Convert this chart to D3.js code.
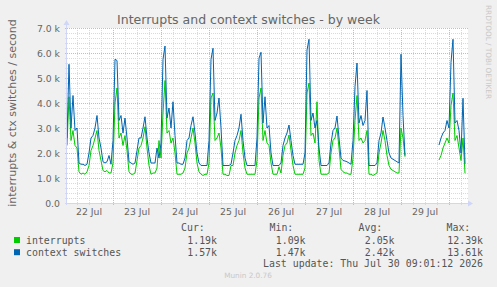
<!DOCTYPE html>
<html>
<head>
<meta charset="utf-8">
<script src="https://cdn.jsdelivr.net/npm/d3@7"></script>
<style>
  body { margin: 0; background: #f0f0f0; }
  svg text { font-family: "DejaVu Sans", sans-serif; fill: #666; }
  svg text.mono { font-family: "DejaVu Sans Mono", monospace; font-size: 9.9px; fill: #555; }
</style>
</head>
<body>
<svg id="chart"></svg>
<script>
var svgWidth = 497;
var svgHeight = 287;

// hourly samples from 22 Jul 01:00, values in thousands per second
var startTime = Date.UTC(2026, 6, 22, 1);
var endTime = Date.UTC(2026, 6, 30, 9);

var interrupts = [
  /* 22 Jul */ 2.3, 4.25, 2.5, 2.9, 2.3, 2.2, 1.25, 1.15, 1.2, 1.15, 1.25, 1.5, 2.1, 2.3, 2.6, 2.9, 2.1, 1.7, 1.3, 1.25, 1.3, 1.2, 1.2,
  /* 23 Jul */ 1.6, 4.0, 4.6, 2.6, 2.8, 2.3, 2.7, 2.1, 1.25, 1.15, 1.15, 1.2, 1.7, 2.2, 2.3, 2.6, 3.05, 2.2, 1.5, 1.15, 1.2, 1.2, 1.4, 2.5,
  /* 24 Jul */ 1.8, 3.6, 4.9, 2.8, 2.9, 2.4, 2.6, 2.0, 1.15, 1.15, 1.15, 1.2, 1.4, 2.0, 2.2, 2.6, 3.0, 2.4, 1.6, 1.25, 1.15, 1.1, 1.15, 1.15,
  /* 25 Jul */ 1.6, 4.2, 4.4, 2.5, 2.6, 2.8, 2.2, 1.15, 1.15, 1.1, 1.1, 1.5, 1.5, 2.0, 2.3, 2.5, 2.9, 2.0, 1.4, 1.15, 1.15, 1.15, 1.15, 1.15,
  /* 26 Jul */ 1.7, 4.2, 4.6, 2.5, 2.9, 2.4, 2.3, 1.6, 1.15, 1.15, 1.15, 1.45, 1.2, 1.9, 2.3, 2.4, 2.72, 2.1, 1.5, 1.15, 1.15, 1.15, 1.15, 1.15,
  /* 27 Jul */ 1.4, 4.4, 4.8, 2.7, 2.8, 2.4, 4.05, 1.7, 1.15, 1.15, 1.15, 1.15, 1.2, 2.0, 2.5, 2.6, 3.0, 2.2, 1.35, 1.25, 1.2, 1.2, 1.15, 1.15,
  /* 28 Jul */ 1.8, 3.3, 4.3, 2.5, 2.6, 2.4, 2.5, 2.9, 1.15, 1.15, 1.1, 1.15, 1.2, 2.0, 2.4, 2.9, 2.5, 1.9, 1.5, 1.35, 1.3, 1.25, 1.2, 1.2,
  /* 29 Jul */ 3.0, 2.6, 1.85, null, null, null, null, null, null, null, null, null, null, null, null, null, null, null, null, 1.72, 1.9, 2.2, 2.4, 2.6,
  /* 30 Jul */ 2.4, 3.9, 4.4, 2.5, 2.7, 2.2, 1.7, 2.6, 1.19, null
];

var ctxSwitches = [
  /* 22 Jul */ 2.6, 5.55, 3.0, 4.3, 2.9, 3.0, 1.6, 1.55, 1.55, 1.5, 1.55, 2.0, 2.6, 2.7, 3.0, 3.5, 2.6, 2.2, 1.65, 1.6, 1.65, 1.9, 1.55,
  /* 23 Jul */ 2.5, 5.75, 5.7, 3.3, 3.5, 2.8, 3.4, 2.6, 1.65, 1.6, 1.55, 1.6, 2.1, 2.6, 2.6, 3.0, 3.45, 2.6, 2.0, 1.6, 1.6, 1.6, 2.2, 1.8,
  /* 24 Jul */ 2.4, 5.75, 6.28, 3.4, 3.8, 3.0, 4.05, 2.7, 1.6, 1.6, 1.55, 1.55, 1.8, 2.5, 2.6, 3.1, 3.45, 2.8, 2.0, 1.6, 1.5, 1.5, 1.5, 1.5,
  /* 25 Jul */ 2.5, 5.75, 6.19, 3.3, 3.6, 4.2, 3.0, 1.5, 1.5, 1.5, 1.5, 1.55, 2.0, 2.5, 2.7, 3.0, 3.55, 2.5, 1.8, 1.5, 1.5, 1.5, 1.5, 1.5,
  /* 26 Jul */ 2.6, 5.79, 6.03, 3.2, 4.25, 3.0, 3.1, 2.0, 1.5, 1.5, 1.5, 1.5, 1.6, 2.3, 2.6, 2.8, 3.12, 2.5, 1.9, 1.55, 1.55, 1.55, 1.55, 1.55,
  /* 27 Jul */ 2.0, 6.12, 6.55, 3.3, 3.6, 3.0, 3.3, 2.2, 1.5, 1.5, 1.5, 1.5, 1.6, 2.4, 2.9, 3.0, 3.48, 2.6, 1.8, 1.7, 1.68, 1.65, 1.6, 1.55,
  /* 28 Jul */ 2.5, 4.65, 5.6, 3.2, 3.5, 3.1, 3.3, 4.5, 1.5, 1.5, 1.5, 1.5, 1.6, 2.5, 2.8, 3.44, 3.0, 2.5, 2.0, 1.8, 1.75, 1.7, 1.65, 1.6,
  /* 29 Jul */ 5.95, 3.5, 1.9, null, null, null, null, null, null, null, null, null, null, null, null, null, null, null, null, 2.32, 2.6, 2.8, 2.9, 3.3,
  /* 30 Jul */ 3.0, 5.63, 6.55, 3.2, 3.3, 2.9, 2.0, 4.19, 1.57, null
];

var yTicks = [0, 1, 2, 3, 4, 5, 6, 7];
var dayLabels = ["22 Jul", "23 Jul", "24 Jul", "25 Jul", "26 Jul", "27 Jul", "28 Jul", "29 Jul"];

var legendNames = ["interrupts", "context switches"];
var curValues = ["1.19k", "1.57k"];
var minValues = ["1.09k", "1.47k"];
var avgValues = ["2.05k", "2.42k"];
var maxValues = ["12.39k", "13.61k"];
var lastUpdate = "Last update: Thu Jul 30 09:01:12 2026";

var colors = ["#00CC00", "#0066B3"];

var svg = d3.select("#chart")
  .attr("width", svgWidth)
  .attr("height", svgHeight)
  .style("display", "block");

svg.append("rect")
  .attr("width", svgWidth)
  .attr("height", svgHeight)
  .attr("fill", "#f0f0f0");

// plot area
var plotLeft = 67, plotRight = 467, plotTop = 28, plotBottom = 203;

var x = d3.scaleUtc()
  .domain([new Date(startTime), new Date(endTime)])
  .range([plotLeft, plotRight]);

var y = d3.scaleLinear()
  .domain([0, 7])
  .range([plotBottom, plotTop]);

svg.append("rect")
  .attr("x", plotLeft)
  .attr("y", plotTop)
  .attr("width", plotRight - plotLeft + 1)
  .attr("height", plotBottom - plotTop)
  .attr("fill", "#ffffff");

var grid = svg.append("g").attr("shape-rendering", "crispEdges");

// minor grid
var minorY = d3.range(1, 35).filter(function(k) { return k % 5 !== 0; }).map(function(k) { return k * 0.2; });
grid.selectAll(".minor-y")
  .data(minorY)
  .enter()
  .append("line")
  .attr("x1", plotLeft - 2)
  .attr("x2", plotRight + 1)
  .attr("y1", d => Math.round(y(d)) + 0.5)
  .attr("y2", d => Math.round(y(d)) + 0.5)
  .attr("stroke", "#dadada")
  .attr("stroke-dasharray", "1,1");

var sixHours = d3.utcHour.every(6).range(new Date(startTime), new Date(endTime))
  .filter(function(d) { return d.getUTCHours() !== 0; });
grid.selectAll(".minor-x")
  .data(sixHours)
  .enter()
  .append("line")
  .attr("x1", d => Math.round(x(d)) + 0.5)
  .attr("x2", d => Math.round(x(d)) + 0.5)
  .attr("y1", plotTop)
  .attr("y2", plotBottom + 2)
  .attr("stroke", "#dadada")
  .attr("stroke-dasharray", "1,1");

// major grid
grid.selectAll(".major-y")
  .data(yTicks.slice(1))
  .enter()
  .append("line")
  .attr("x1", plotLeft - 2)
  .attr("x2", plotRight + 1)
  .attr("y1", d => Math.round(y(d)) + 0.5)
  .attr("y2", d => Math.round(y(d)) + 0.5)
  .attr("stroke", "#f2aaaa")
  .attr("stroke-dasharray", "1,1");

var midnights = d3.utcDay.range(new Date(startTime), new Date(endTime));
grid.selectAll(".major-x")
  .data(midnights)
  .enter()
  .append("line")
  .attr("x1", d => Math.round(x(d)) + 0.5)
  .attr("x2", d => Math.round(x(d)) + 0.5)
  .attr("y1", plotTop)
  .attr("y2", plotBottom + 2)
  .attr("stroke", "#f2aaaa")
  .attr("stroke-dasharray", "1,1");

// series lines
var hourTime = function(i) { return new Date(startTime + i * 3600e3); };
var line = d3.line()
  .defined(d => d != null)
  .x((d, i) => x(hourTime(i)))
  .y(d => y(d));

[interrupts, ctxSwitches].forEach(function(series, k) {
  svg.append("path")
    .datum(series)
    .attr("fill", "none")
    .attr("stroke", colors[k])
    .attr("stroke-width", 1)
    .attr("d", line);
});

// axes with arrows
var axisColor = "#CFD6F8";
svg.append("line")
  .attr("x1", plotLeft - 0.5).attr("x2", plotLeft - 0.5)
  .attr("y1", plotBottom + 2).attr("y2", plotTop - 4)
  .attr("stroke", axisColor);
svg.append("line")
  .attr("x1", plotLeft - 2).attr("x2", plotRight + 2)
  .attr("y1", plotBottom + 0.5).attr("y2", plotBottom + 0.5)
  .attr("stroke", axisColor);
svg.append("path")
  .attr("d", `M${plotLeft - 3.5},${plotTop - 3} L${plotLeft + 2.5},${plotTop - 3} L${plotLeft - 0.5},${plotTop - 8} Z`)
  .attr("fill", axisColor);
svg.append("path")
  .attr("d", `M${plotRight + 1},${plotBottom - 2.5} L${plotRight + 1},${plotBottom + 3.5} L${plotRight + 6},${plotBottom + 0.5} Z`)
  .attr("fill", axisColor);

// y tick labels
svg.selectAll(".ytick")
  .data(yTicks)
  .enter()
  .append("text")
  .attr("x", 60)
  .attr("y", d => y(d) + 3.5)
  .attr("text-anchor", "end")
  .style("font-size", "9.3px")
  .text(d => d === 0 ? "0.0" : d.toFixed(1) + " k");

// day labels at noon
svg.selectAll(".xtick")
  .data(dayLabels)
  .enter()
  .append("text")
  .attr("x", (d, i) => x(d3.utcHour.offset(midnights[0], -12 + 24 * i)))
  .attr("y", 214.5)
  .attr("text-anchor", "middle")
  .style("font-size", "9.3px")
  .text(d => d);

// title and vertical label
svg.append("text")
  .attr("x", 248.5)
  .attr("y", 23.5)
  .attr("text-anchor", "middle")
  .style("font-size", "12.5px")
  .text("Interrupts and context switches - by week");

svg.append("text")
  .attr("transform", "translate(15.5,113)rotate(-90)")
  .attr("text-anchor", "middle")
  .style("font-size", "11px")
  .text("interrupts & ctx switches / second");

svg.append("text")
  .attr("transform", "translate(486,52)rotate(90)")
  .attr("text-anchor", "middle")
  .style("font-size", "7.3px")
  .style("fill", "#c8c8c8")
  .text("RRDTOOL / TOBI OETIKER");

// legend
var headers = [["Cur:", 181], ["Min:", 269.5], ["Avg:", 358.5], ["Max:", 446.5]];
headers.forEach(function(h) {
  svg.append("text").attr("class", "mono")
    .attr("x", h[1]).attr("y", 231)
    .text(h[0]);
});

var columns = [[curValues, 217], [minValues, 305.5], [avgValues, 394.5], [maxValues, 483]];
legendNames.forEach(function(name, k) {
  var rowY = 243.5 + k * 12.2;
  svg.append("rect")
    .attr("x", 14).attr("y", rowY - 6.5)
    .attr("width", 6).attr("height", 6)
    .attr("fill", colors[k]);
  svg.append("text").attr("class", "mono")
    .attr("x", 26).attr("y", rowY)
    .text(name);
  columns.forEach(function(c) {
    svg.append("text").attr("class", "mono")
      .attr("x", c[1]).attr("y", rowY)
      .attr("text-anchor", "end")
      .text(c[0][k]);
  });
});

svg.append("text").attr("class", "mono")
  .attr("x", 483).attr("y", 267)
  .attr("text-anchor", "end")
  .text(lastUpdate);

svg.append("text")
  .attr("x", 248)
  .attr("y", 278)
  .attr("text-anchor", "middle")
  .style("font-size", "7.3px")
  .style("fill", "#c8c8c8")
  .text("Munin 2.0.76");
</script>
</body>
</html>
